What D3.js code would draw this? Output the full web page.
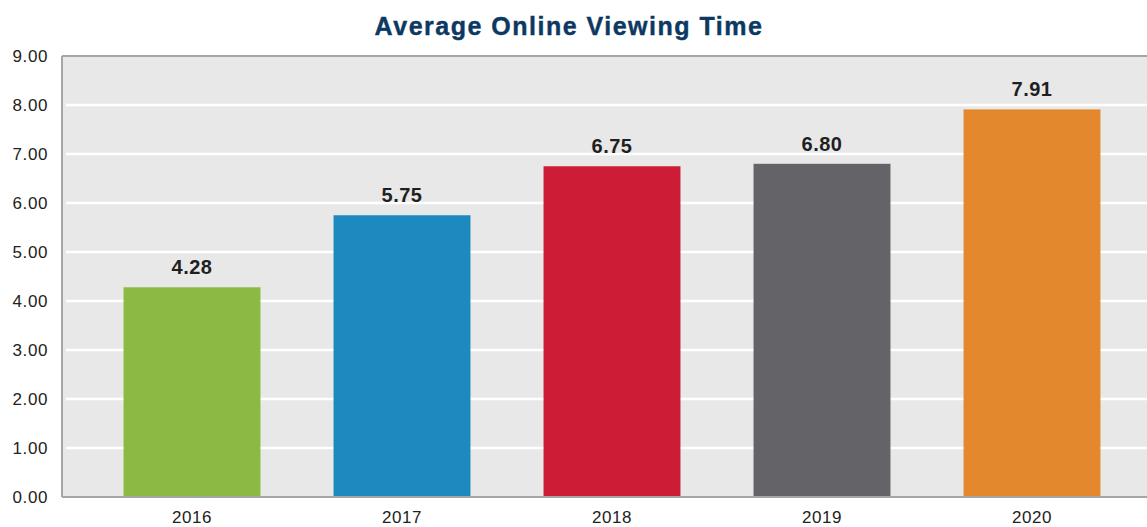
<!DOCTYPE html>
<html><head><meta charset="utf-8">
<script src="https://cdn.jsdelivr.net/npm/d3@7"></script>
<style>body{margin:0;background:#fff}svg{display:block}</style>
</head><body>
<script>
const categories = ["2016","2017","2018","2019","2020"];
const values = [4.28, 5.75, 6.75, 6.80, 7.91];
const colors = ["#8aba44","#1c8abf","#cc1c36","#646368","#e3882c"];
const yTicks = [0,1,2,3,4,5,6,7,8,9];
const title = "Average Online Viewing Time";

const W = 1147, H = 527;
const svg = d3.select("body").append("svg").attr("width", W).attr("height", H);

const pL = 62, pR = 1147, pT = 56, pB = 497;
const y = d3.scaleLinear().domain([0, 9]).range([pB, pT]);
const x = d3.scaleBand().domain(categories).range([87, 1137]).paddingInner(0.348).paddingOuter(0.174);

// background
svg.append("rect").attr("x", pL).attr("y", pT).attr("width", pR - pL).attr("height", pB - pT).attr("fill", "#e8e8e8");

// gridlines
svg.append("g").selectAll("line").data(yTicks.filter(d => d > 0 && d < 9)).join("line")
  .attr("x1", pL + 4).attr("x2", pR)
  .attr("y1", d => y(d)).attr("y2", d => y(d))
  .attr("stroke", "#ffffff").attr("stroke-width", 2.5);

// frame
svg.append("line").attr("x1", pL).attr("x2", pR).attr("y1", pT).attr("y2", pT).attr("stroke", "#a3a6a6").attr("stroke-width", 2);
svg.append("line").attr("x1", pL).attr("x2", pL).attr("y1", pT).attr("y2", pB).attr("stroke", "#a3a6a6").attr("stroke-width", 2);
svg.append("line").attr("x1", pL).attr("x2", pR).attr("y1", pB).attr("y2", pB).attr("stroke", "#a3a6a6").attr("stroke-width", 2);

// bars
svg.append("g").selectAll("rect").data(categories).join("rect")
  .attr("x", d => x(d)).attr("width", x.bandwidth())
  .attr("y", (d, i) => y(values[i])).attr("height", (d, i) => pB - 1 - y(values[i]))
  .attr("fill", (d, i) => colors[i]);

// value labels
svg.append("g").selectAll("text").data(categories).join("text")
  .attr("x", d => x(d) + x.bandwidth() / 2)
  .attr("y", (d, i) => y(values[i]) - 13)
  .attr("text-anchor", "middle")
  .attr("font-family", "'Liberation Sans', Arial, sans-serif")
  .attr("font-weight", "bold").attr("font-size", 20)
  .attr("letter-spacing", "0.5px")
  .attr("fill", "#1f1f1f")
  .text((d, i) => values[i].toFixed(2));

// y axis
const yAxis = d3.axisLeft(y).tickValues(yTicks).tickFormat(d3.format(".2f")).tickSize(0).tickPadding(14);
const gy = svg.append("g").attr("transform", `translate(${pL},0)`).call(yAxis);
gy.select(".domain").remove();
gy.selectAll("text").attr("font-family", "'Liberation Sans', Arial, sans-serif").attr("font-size", 17)
  .attr("letter-spacing", "0.6px").attr("fill", "#222");

// x axis
const xAxis = d3.axisBottom(x).tickSize(0).tickPadding(14);
const gx = svg.append("g").attr("transform", `translate(0,${pB})`).call(xAxis);
gx.select(".domain").remove();
gx.selectAll("text").attr("font-family", "'Liberation Sans', Arial, sans-serif").attr("font-size", 17)
  .attr("letter-spacing", "0.6px").attr("fill", "#222");

// title
svg.append("text").attr("x", 569).attr("y", 35).attr("text-anchor", "middle")
  .attr("font-family", "'Liberation Sans', Arial, sans-serif").attr("font-weight", "bold")
  .attr("font-size", 25).attr("letter-spacing", "1.5px").attr("fill", "#0c3862")
  .attr("stroke", "#0c3862").attr("stroke-width", 0.4)
  .text(title);
</script>
</body></html>
